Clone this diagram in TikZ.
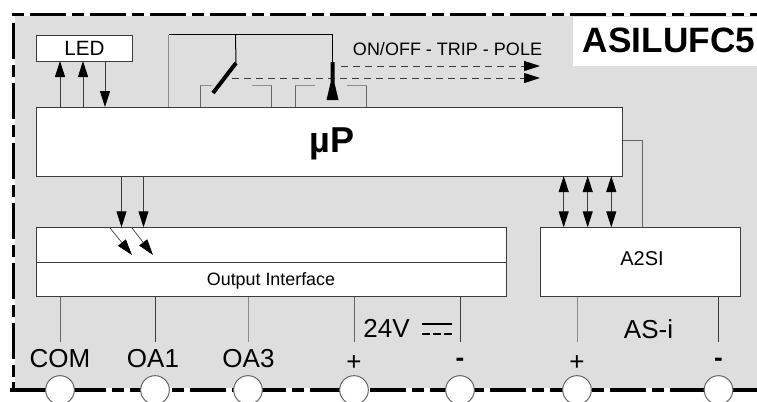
\documentclass[tikz,border=0pt]{standalone}
\usepackage{fontspec}
\setmainfont{Liberation Sans}
\usetikzlibrary{arrows.meta}
\definecolor{panelgray}{HTML}{DEDEDE}
\definecolor{wiredark}{HTML}{3C3C3C}
\definecolor{wiregray}{HTML}{666666}
\definecolor{wirelight}{HTML}{8C8C8C}
\tikzset{
	>={Triangle[length=12pt,width=7.5pt,color=black]},
	boxnode/.style 2 args={draw=wiredark, fill=white, line width=0.75pt, outer sep=0pt, inner sep=0pt, minimum width=#1*0.75pt, minimum height=#2*0.75pt},
	textnode/.style={anchor=base, inner sep=0pt, text=black},
	terminal/.style={circle, draw=wiregray, fill=white, line width=0.75pt, outer sep=0pt, inner sep=0pt, minimum size=21.5pt},
	border/.style={line width=2.6pt, black},
	wire/.style={line width=0.75pt, wiredark},
}
\begin{document}
\begin{tikzpicture}[x=0.75pt, y=-0.75pt]
	\clip (0,0) rectangle (757,401);
	\fill[white] (0,0) rectangle (757,401);
	\fill[panelgray] (15,16) rectangle (757,388);
	\fill[white] (573,17) rectangle (757,66);

	\draw[border, dash pattern=on 9pt off 4.5pt on 27pt off 4.5pt] (12,14.3) -- (757,14.3);
	\draw[border, dash pattern=on 27pt off 4.5pt on 9pt off 4.5pt] (13.5,23) -- (13.5,380);
	\draw[border] (13.5,382) -- (13.5,390);
	\draw[border, dash pattern=on 27pt off 4.5pt on 9pt off 4.5pt] (10,390) -- (757,390);

	\node[boxnode={95.5}{25.5}] (led) at (84.25,48.25) {};
	\node[boxnode={586.2}{69}] (mup) at (329.6,141.5) {};
	\node[boxnode={469.5}{34.7}] (outupper) at (271.25,244.65) {};
	\node[boxnode={469.5}{34.5}] (outlower) at (271.25,279.25) {};
	\node[boxnode={200.2}{69.2}] (a2si) at (640.4,261.9) {};

	\node[textnode, font=\fontsize{15.5}{15.5}\selectfont] (ledlabel) at (84.5,55) {LED};
	\node[textnode, font=\fontsize{27}{27}\selectfont\bfseries] (muplabel) at (332,152) {µP};
	\node[textnode, font=\fontsize{13.4}{13.4}\selectfont] (outlabel) at (271,285) {Output Interface};
	\node[textnode, font=\fontsize{15}{15}\selectfont] (a2silabel) at (642,265) {A2SI};
	\node[textnode, font=\fontsize{26.4}{26.4}\selectfont\bfseries] (title) at (669,52) {ASILUFC5};
	\node[textnode, font=\fontsize{13.5}{13.5}\selectfont] (tripfunc) at (447.5,55) {ON/OFF - TRIP - POLE};
	\node[textnode, font=\fontsize{19.5}{19.5}\selectfont] (volt) at (386.5,337) {24V};
	\node[textnode, font=\fontsize{19.5}{19.5}\selectfont] (asi) at (648.5,338) {AS-i};

	\foreach \x in {60,83}
	\draw[wire, ->] (\x,0 |- mup.north) -- (\x,0 |- led.south);
	\draw[wire, ->] (105,0 |- led.south) -- (105,0 |- mup.north);

	\foreach \x in {121.5,143.5}
	\draw[wire, ->] (\x,0 |- mup.south) -- (\x,0 |- outupper.north);

	\coordinate (photoa) at (110,228);
	\coordinate (photob) at (132,228);
	\coordinate (photoc) at (132,255);
	\coordinate (photod) at (153,255);
	\draw[wire, line width=0.5pt, ->] (photoa) -- (photoc);
	\draw[wire, line width=0.5pt, ->] (photob) -- (photod);

	\foreach \x in {563.7,587.7,611.3}
	\draw[wire, <->] (\x,0 |- mup.south) -- (\x,0 |- a2si.north);
	\draw[wire, wiregray] (mup.east |- 0,140.7) -| (642.7,0 |- a2si.north);

	\coordinate (wireleft) at (168.5,34.5);
	\coordinate (wirebar) at (332.5,34.5);
	\coordinate (switcha) at (236,63);
	\coordinate (switchb) at (213,93);
	\coordinate (barhead) at (332.5,62);
	\draw[wire, black] (wireleft) -- (wirebar) -- (barhead);
	\draw[wire, wirelight] (wireleft) -- (168.5,0 |- mup.north);
	\draw[wire, black] (235.5,34.5) -- (switcha);
	\draw[line width=3pt, black] (switcha) -- (switchb);

	\draw[wire, wiregray] (200,0 |- mup.north) -- (200,85.5);
	\draw[wire, wiregray] (271.7,0 |- mup.north) -- (271.7,85.5);
	\draw[wire, wiregray] (295,0 |- mup.north) -- (295,85.5);
	\draw[wire, wiregray] (366.7,0 |- mup.north) -- (366.7,85.5);
	\foreach \xa/\xb in {200/212,252/271.7,295/315,346.7/366.7}
	\draw[wire, wirelight] (\xa,85.5) -- (\xb,85.5);

	\coordinate (tripa) at (232,78);
	\coordinate (tripb) at (540,78);
	\coordinate (tripc) at (341,66);
	\coordinate (tripd) at (540,66);
	\draw[wire, dash pattern=on 5.5pt off 3.5pt, ->] (tripa) -- (tripb);
	\draw[wire, dash pattern=on 5.5pt off 3.5pt, ->] (tripc) -- (tripd);
	\fill[black] (330.5,62) -- (334.5,62) -- (334.5,83) -- (338.5,100) -- (326.5,100) -- (330.5,83) -- cycle;

	\foreach \name/\x/\col/\labelx/\base/\txt in {
		com/60/wiregray/60/367.7/COM,
		oaa/155/wiredark/153/367.7/OA1,
		oab/248/wirelight/248.5/367.7/OA3,
		vplus/354/wiregray/354/370/+,
		vminus/460/wiredark/460/366/\textbf{-},
		asplus/577/wirelight/577/370/+,
		asminus/718.5/wiredark/718.5/366/\textbf{-}}
	{
		\node[terminal] (t\name) at (\x,390) {};
		\coordinate (w\name) at (\x,341.7);
		\draw[wire, \col] (outlower.south -| t\name) -- (w\name);
		\node[textnode, font=\fontsize{19.5}{19.5}\selectfont] (l\name) at (\labelx,\base) {\txt};
	}

	\draw[line width=1.5pt, black] (422,324) -- (452,324);
	\draw[line width=1.5pt, black, dash pattern=on 6pt off 2.2pt] (422,334) -- (452,334);
\end{tikzpicture}
\end{document}
